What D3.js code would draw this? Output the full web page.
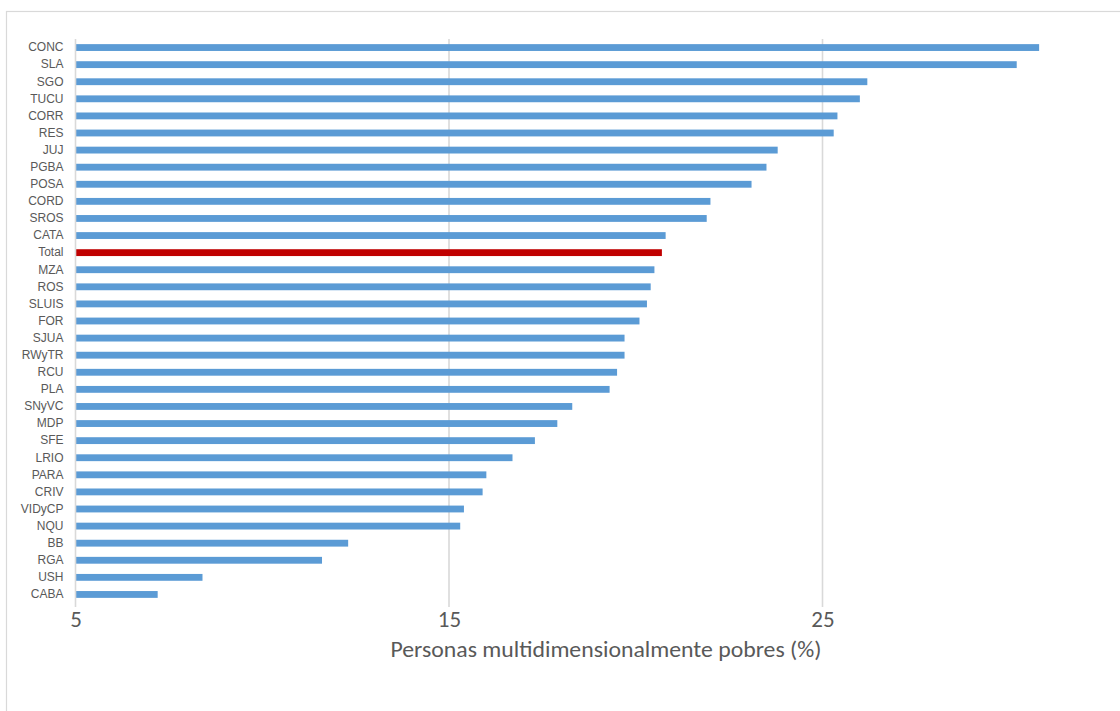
<!DOCTYPE html>
<html>
<head>
<meta charset="utf-8">
<script src="https://cdn.jsdelivr.net/npm/d3@7/dist/d3.min.js"></script>
<style>
  html, body { margin: 0; padding: 0; background: #fff; }
  svg { display: block; }
</style>
</head>
<body>
<svg id="chart" width="1120" height="711"></svg>
<script>
// Aglomerados, ordered from highest to lowest share of multidimensionally poor people
const categories = [
  "CONC", "SLA", "SGO", "TUCU", "CORR", "RES", "JUJ", "PGBA", "POSA", "CORD",
  "SROS", "CATA", "Total", "MZA", "ROS", "SLUIS", "FOR", "SJUA", "RWyTR", "RCU",
  "PLA", "SNyVC", "MDP", "SFE", "LRIO", "PARA", "CRIV", "VIDyCP", "NQU", "BB",
  "RGA", "USH", "CABA"
];
// Personas multidimensionalmente pobres (%)
const values = [
  30.8, 30.2, 26.2, 26.0, 25.4, 25.3, 23.8, 23.5, 23.1, 22.0,
  21.9, 20.8, 20.7, 20.5, 20.4, 20.3, 20.1, 19.7, 19.7, 19.5,
  19.3, 18.3, 17.9, 17.3, 16.7, 16.0, 15.9, 15.4, 15.3, 12.3,
  11.6, 8.4, 7.2
];
const highlighted = ["Total"];
const xTicks = [5, 15, 25];
const xTitle = "Personas multidimensionalmente pobres (%)";

const data = categories.map((c, i) => ({ name: c, value: values[i] }));

const svg = d3.select("#chart");
const textColor = "#595959";
const gridColor = "#D9D9D9";
const labelFont = "'Liberation Sans Narrow', 'Arial Narrow', 'Liberation Sans', sans-serif";
const tickFont = "Carlito, 'Open Sans', 'Liberation Sans', sans-serif";

// Chart frame (extends past the visible window on the right and bottom)
svg.append("rect")
  .attr("x", 6.5).attr("y", 11.5)
  .attr("width", 1200).attr("height", 800)
  .attr("fill", "#fff")
  .attr("stroke", gridColor)
  .attr("stroke-width", 1.2);

const plot = { left: 75.5, top: 39, bottom: 603 };

const x = d3.scaleLinear().domain([5, 35]).range([plot.left, plot.left + 30 * 37.35]);
const y = d3.scaleBand().domain(categories).range([plot.top, plot.bottom]).paddingInner(0.6).paddingOuter(0.3);

// Vertical gridlines
svg.append("g")
  .selectAll("line")
  .data(xTicks.filter(t => t !== x.domain()[0]))
  .join("line")
  .attr("x1", d => x(d)).attr("x2", d => x(d))
  .attr("y1", plot.top).attr("y2", plot.bottom + 4)
  .attr("stroke", gridColor)
  .attr("stroke-width", 1.6);

// Bars
svg.append("g")
  .selectAll("rect")
  .data(data)
  .join("rect")
  .attr("x", x(5))
  .attr("y", d => y(d.name))
  .attr("width", d => x(d.value) - x(5))
  .attr("height", y.bandwidth())
  .attr("fill", d => highlighted.includes(d.name) ? "#C00000" : "#5B9BD5");

// Category axis
const yAxis = svg.append("g")
  .attr("transform", `translate(${plot.left},0)`)
  .call(d3.axisLeft(y).tickSize(0).tickPadding(12));
yAxis.select(".domain").attr("stroke", gridColor).attr("stroke-width", 1.6)
  .attr("d", `M0,${plot.top}V${plot.bottom + 4}`);
yAxis.selectAll("text")
  .attr("fill", textColor)
  .style("font-family", labelFont)
  .style("font-size", "12px");

// Value axis (labels only)
const xAxis = svg.append("g")
  .attr("transform", `translate(0,${plot.bottom})`)
  .call(d3.axisBottom(x).tickValues(xTicks).tickSize(0).tickPadding(8).tickFormat(d3.format("d")));
xAxis.select(".domain").remove();
xAxis.selectAll("text")
  .attr("fill", textColor)
  .style("font-family", tickFont)
  .style("font-size", "23px");

// Axis title
svg.append("text")
  .attr("x", 606)
  .attr("y", 657)
  .attr("text-anchor", "middle")
  .attr("fill", textColor)
  .attr("textLength", 431)
  .attr("lengthAdjust", "spacingAndGlyphs")
  .style("font-family", tickFont)
  .style("font-size", "22px")
  .text(xTitle);
</script>
</body>
</html>
